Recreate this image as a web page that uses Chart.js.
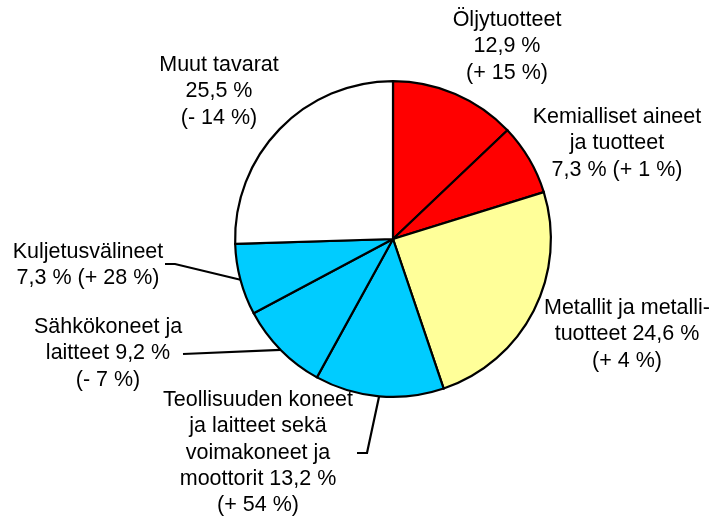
<!DOCTYPE html>
<html>
<head>
<meta charset="utf-8">
<script src="https://cdn.jsdelivr.net/npm/chart.js@4/dist/chart.umd.min.js"></script>
<style>
html,body{margin:0;padding:0;background:#fff;}
#wrap{width:712px;height:520px;position:relative;}
</style>
</head>
<body>
<div id="wrap"><canvas id="c" width="712" height="520"></canvas></div>
<script>
// ---- data ----
const categories = ["Öljytuotteet", "Kemialliset aineet ja tuotteet", "Metallit ja metallituotteet",
  "Teollisuuden koneet ja laitteet sekä voimakoneet ja moottorit", "Sähkökoneet ja laitteet",
  "Kuljetusvälineet", "Muut tavarat"];
const shares = [12.9, 7.3, 24.6, 13.2, 9.2, 7.3, 25.5];
const changes = ["+ 15", "+ 1", "+ 4", "+ 54", "- 7", "+ 28", "- 14"];
const labelTemplates = [
  ["Öljytuotteet", "{v} %", "({c} %)"],
  ["Kemialliset aineet", "ja tuotteet", "{v} % ({c} %)"],
  ["Metallit ja metalli-", "tuotteet {v} %", "({c} %)"],
  ["Teollisuuden koneet", "ja laitteet sekä", "voimakoneet ja", "moottorit {v} %", "({c} %)"],
  ["Sähkökoneet ja", "laitteet {v} %", "({c} %)"],
  ["Kuljetusvälineet", "{v} % ({c} %)"],
  ["Muut tavarat", "{v} %", "({c} %)"]
];
const colors = ["#FF0000", "#FF0000", "#FFFF99", "#00CCFF", "#00CCFF", "#00CCFF", "#FFFFFF"];

// ---- layout (label placement) ----
const labelPos = [
  {x: 507, y: 20}, {x: 617, y: 117}, {x: 627, y: 308}, {x: 258, y: 400},
  {x: 108, y: 327}, {x: 88, y: 252}, {x: 219, y: 65}
];
const lineH = 26.3;
// leader lines: start at arc mid-angle on the outer edge; then through given points
const leaders = {
  3: [{x: 367, y: 453}, {x: 357, y: 453}],
  4: [{x: 183, y: 354}],
  5: [{x: 175, y: 264}, {x: 165, y: 264}]
};

const fmt = v => v.toFixed(1).replace(".", ",");

const labelPlugin = {
  id: "labels",
  afterDatasetsDraw(chart) {
    const ctx = chart.ctx;
    const arcs = chart.getDatasetMeta(0).data;
    ctx.save();
    ctx.strokeStyle = "#000";
    ctx.lineWidth = 2.2;
    ctx.lineJoin = "miter";
    Object.keys(leaders).forEach(k => {
      const a = arcs[+k];
      const p = a.getProps(["x", "y", "startAngle", "endAngle", "outerRadius"], true);
      const mid = (p.startAngle + p.endAngle) / 2;
      ctx.beginPath();
      ctx.moveTo(p.x + Math.cos(mid) * p.outerRadius, p.y + Math.sin(mid) * p.outerRadius);
      leaders[k].forEach(pt => ctx.lineTo(pt.x, pt.y));
      ctx.stroke();
    });
    ctx.fillStyle = "#000";
    ctx.font = "21.5px 'Liberation Sans', Arial, sans-serif";
    ctx.textAlign = "center";
    ctx.textBaseline = "middle";
    labelTemplates.forEach((lines, i) => {
      lines.forEach((t, j) => {
        const s = t.replace("{v}", fmt(shares[i])).replace("{c}", changes[i]);
        ctx.fillText(s, labelPos[i].x, labelPos[i].y + j * lineH);
      });
    });
    ctx.restore();
  }
};

new Chart(document.getElementById("c"), {
  type: "pie",
  data: {
    labels: categories,
    datasets: [{
      data: shares,
      backgroundColor: colors,
      borderColor: "#000",
      borderWidth: 2.2,
      borderJoinStyle: "miter"
    }]
  },
  options: {
    responsive: false,
    animation: false,
    layout: {padding: {top: 80, bottom: 122, left: 100, right: 26}},
    plugins: {legend: {display: false}, tooltip: {enabled: false}, title: {display: false}}
  },
  plugins: [labelPlugin]
});
</script>
</body>
</html>
